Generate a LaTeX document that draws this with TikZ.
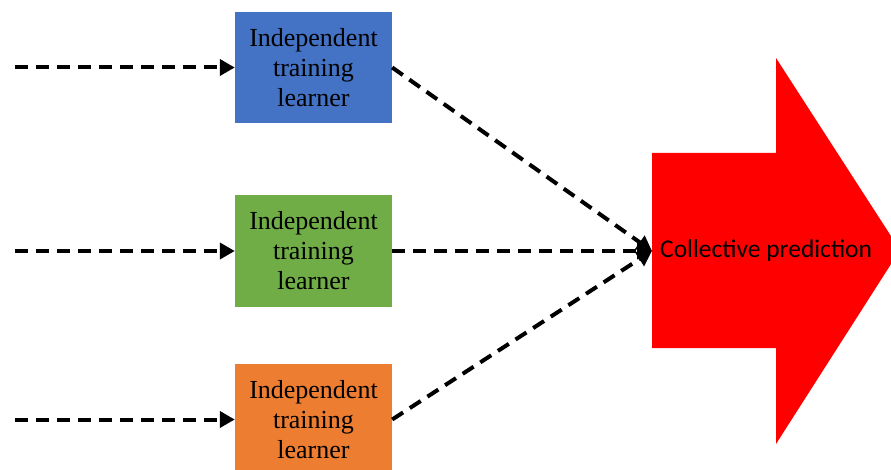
\documentclass[tikz,border=0pt]{standalone}
\usepackage{fontspec}
\setmainfont{Liberation Serif}
\newfontfamily\predfont{Carlito}
\usepackage{xcolor}
\usepackage{tikz}
\usetikzlibrary{arrows.meta,positioning}

\definecolor{learnblue}{HTML}{4472C4}
\definecolor{learngreen}{HTML}{70AD47}
\definecolor{learnorange}{HTML}{ED7D31}

\begin{document}
\begin{tikzpicture}[
  x=1pt, y=-1pt,
  learner/.style={rectangle, minimum width=157pt, minimum height=111pt,
                  inner sep=0pt, align=center,
                  font=\fontsize{26}{30}\selectfont},
  arrow/.style={-{Triangle[length=15pt,width=16pt]}, line width=4pt,
                dash pattern=on 13pt off 8pt}
]
  \clip (0,0) rectangle (891,470);

  % the big red arrow
  \fill[red] (652,153) -- (776,153) -- (776,58) -- (900,250)
             -- (776,444) -- (776,348) -- (652,348) -- cycle;
  \node (pred) [anchor=west, inner xsep=8pt, inner ysep=0pt,
                font=\predfont\fontsize{25.5}{30}\selectfont]
        at (652,251) {Collective prediction};

  \node (l1) [learner, fill=learnblue]   at (313.5,67.5) {Independent\\training\\learner};
  \node (l2) [learner, fill=learngreen]  at (313.5,251)  {Independent\\training\\learner};
  \node (l3) [learner, fill=learnorange] at (313.5,419.5) {Independent\\training\\learner};

  \coordinate (in1) at (15,67.5);
  \coordinate (in2) at (15,251);
  \coordinate (in3) at (15,419.5);

  \draw[arrow] (in1) -- (l1);
  \draw[arrow] (in2) -- (l2);
  \draw[arrow] (in3) -- (l3);
  \draw[arrow] (l1.east) -- (pred.west);
  \draw[arrow] (l2.east) -- (pred.west);
  \draw[arrow] (l3.east) -- (pred.west);
\end{tikzpicture}
\end{document}
